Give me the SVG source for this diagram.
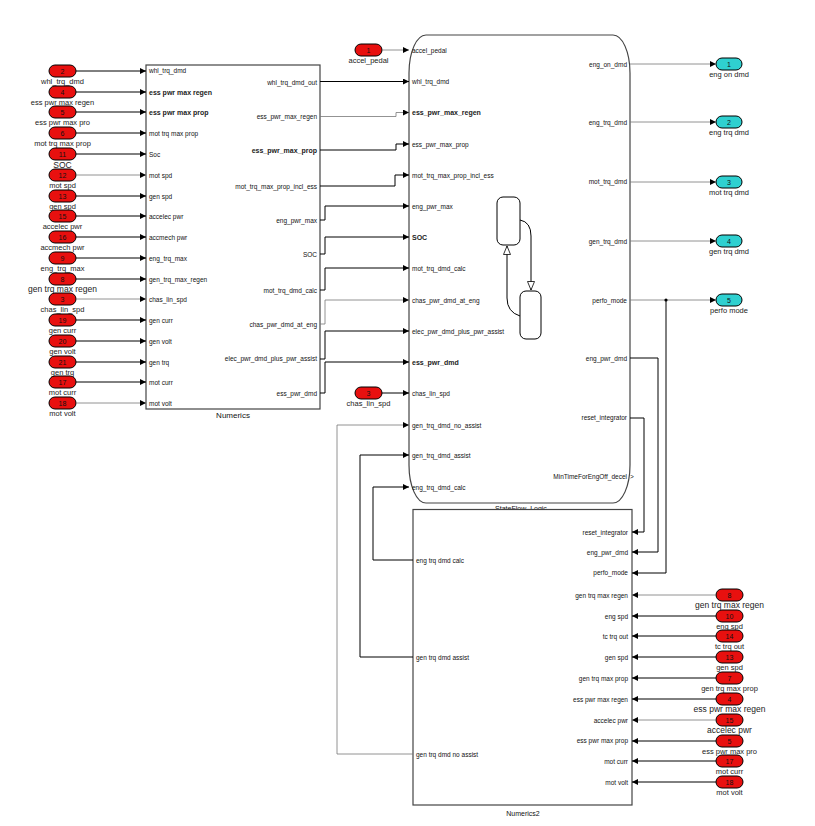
<svg xmlns="http://www.w3.org/2000/svg" width="815" height="826" viewBox="0 0 815 826">
<defs>
<marker id="ar" markerUnits="userSpaceOnUse" markerWidth="7" markerHeight="7" refX="6" refY="3" orient="auto"><path d="M0,0 L6,3 L0,6 z" fill="#000"/></marker>
<marker id="oa" markerUnits="userSpaceOnUse" markerWidth="10" markerHeight="12" refX="9" refY="4" orient="auto"><path d="M0.5,0.5 L9,4 L0.5,7.5 z" fill="#fff" stroke="#000" stroke-width="0.8"/></marker>
<style>
text{font-family:"Liberation Sans",Arial,sans-serif;fill:#111}
.n{font-size:7px;text-anchor:middle}
.lb{font-size:7.5px;text-anchor:middle;fill:#222}
.lb9{font-size:8.5px;text-anchor:middle;fill:#222}
.p{font-size:6.5px}
.pb{font-size:7px;font-weight:bold;fill:#222}
.pr{font-size:6.5px;text-anchor:end}
.prb{font-size:7px;text-anchor:end;font-weight:bold;fill:#222}
.bl{font-size:8px;text-anchor:middle}
.ip{fill:#e8100f;stroke:#000;stroke-width:1}
.op{fill:#2fd0d0;stroke:#000;stroke-width:1}
.blk{fill:#fff;stroke:#444;stroke-width:1.2}
#conn path{fill:none;stroke:#000;stroke-width:1;marker-end:url(#ar)}
#conn path.g{stroke:#777;stroke-width:0.8}
</style>
</defs>
<rect width="815" height="826" fill="#fff"/>

<!-- Blocks -->
<g id="Numerics">
<rect class="blk" x="146" y="65" width="174" height="344"/>
<text class="p" x="149" y="73">whl_trq_dmd</text>
<text class="pb" x="149" y="94.5">ess pwr max regen</text>
<text class="pb" x="149" y="114.5">ess pwr max prop</text>
<text class="p" x="149" y="135.5">mot trq max prop</text>
<text class="p" x="149" y="156.5">Soc</text>
<text class="p" x="149" y="177.5">mot spd</text>
<text class="p" x="149" y="198.5">gen spd</text>
<text class="p" x="149" y="218.5">accelec pwr</text>
<text class="p" x="149" y="239.5">accmech pwr</text>
<text class="p" x="149" y="260.5">eng_trq_max</text>
<text class="p" x="149" y="281.5">gen_trq_max_regen</text>
<text class="p" x="149" y="301.5">chas_lin_spd</text>
<text class="p" x="149" y="322.5">gen curr</text>
<text class="p" x="149" y="343.5">gen volt</text>
<text class="p" x="149" y="364.5">gen trq</text>
<text class="p" x="149" y="384.5">mot curr</text>
<text class="p" x="149" y="405.5">mot volt</text>
<text class="pr" x="317" y="84.5">whl_trq_dmd_out</text>
<text class="pr" x="317" y="119">ess_pwr_max_regen</text>
<text class="prb" x="317" y="152.5">ess_pwr_max_prop</text>
<text class="pr" x="317" y="188.5">mot_trq_max_prop_incl_ess</text>
<text class="pr" x="317" y="222.5">eng_pwr_max</text>
<text class="pr" x="317" y="256.5">SOC</text>
<text class="pr" x="317" y="292.5">mot_trq_dmd_calc</text>
<text class="pr" x="317" y="326.5">chas_pwr_dmd_at_eng</text>
<text class="pr" x="317" y="361">elec_pwr_dmd_plus_pwr_assist</text>
<text class="pr" x="317" y="395.5">ess_pwr_dmd</text>
<text class="bl" x="233" y="418">Numerics</text>
</g>

<g id="StateFlow_Logic">
<path class="blk" d="M426,35 L613,35 A17,38 0 0 1 630,73 L630,465 A17,38 0 0 1 613,503 L426,503 A17,38 0 0 1 409,465 L409,73 A17,38 0 0 1 426,35 Z"/>
<rect x="497" y="197" width="23" height="48" rx="6" fill="#fff" stroke="#000" stroke-width="1"/>
<rect x="520" y="291" width="21" height="48" rx="6" fill="#fff" stroke="#000" stroke-width="1"/>
<path d="M520,220 Q531,222 531,236 L531,290" fill="none" stroke="#000" stroke-width="1" marker-end="url(#oa)"/>
<path d="M520,316 Q507,312 507,298 L507,246" fill="none" stroke="#000" stroke-width="1" marker-end="url(#oa)"/>
<text class="p" x="412" y="52.5">accel_pedal</text>
<text class="p" x="412" y="83.5">whl_trq_dmd</text>
<text class="pb" x="412" y="115">ess_pwr_max_regen</text>
<text class="p" x="412" y="146.5">ess_pwr_max_prop</text>
<text class="p" x="412" y="177.5">mot_trq_max_prop_incl_ess</text>
<text class="p" x="412" y="208.5">eng_pwr_max</text>
<text class="pb" x="412" y="239.5">SOC</text>
<text class="p" x="412" y="270.5">mot_trq_dmd_calc</text>
<text class="p" x="412" y="302.5">chas_pwr_dmd_at_eng</text>
<text class="p" x="412" y="333.5">elec_pwr_dmd_plus_pwr_assist</text>
<text class="pb" x="412" y="364.5">ess_pwr_dmd</text>
<text class="p" x="412" y="395.5">chas_lin_spd</text>
<text class="p" x="412" y="427.5">gen_trq_dmd_no_assist</text>
<text class="p" x="412" y="457.5">gen_trq_dmd_assist</text>
<text class="p" x="412" y="489.5">eng_trq_dmd_calc</text>
<text class="pr" x="627" y="66.5">eng_on_dmd</text>
<text class="pr" x="627" y="125">eng_trq_dmd</text>
<text class="pr" x="627" y="184">mot_trq_dmd</text>
<text class="pr" x="627" y="243.5">gen_trq_dmd</text>
<text class="pr" x="627" y="302.5">perfo_mode</text>
<text class="pr" x="627" y="360.5">eng_pwr_dmd</text>
<text class="pr" x="627" y="420">reset_integrator</text>
<text class="pr" x="627" y="479">MinTimeForEngOff_decel</text>
<text class="p" x="630" y="479">&gt;</text>
<text class="n" x="521" y="510.5">StateFlow_Logic</text>
</g>

<g id="Numerics2">
<rect class="blk" x="413" y="509.5" width="219" height="295.5"/>
<text class="pr" x="628" y="534.5">reset_integrator</text>
<text class="pr" x="628" y="554.5">eng_pwr_dmd</text>
<text class="pr" x="628" y="575">perfo_mode</text>
<text class="pr" x="628" y="597.5">gen trq max regen</text>
<text class="pr" x="628" y="618.5">eng spd</text>
<text class="pr" x="628" y="638.5">tc trq out</text>
<text class="pr" x="628" y="659.5">gen spd</text>
<text class="pr" x="628" y="680.5">gen trq max prop</text>
<text class="pr" x="628" y="701.5">ess pwr max regen</text>
<text class="pr" x="628" y="722.5">accelec pwr</text>
<text class="pr" x="628" y="742.5">ess pwr max prop</text>
<text class="pr" x="628" y="763.5">mot curr</text>
<text class="pr" x="628" y="784.5">mot volt</text>
<text class="p" x="416" y="562.5">eng trq dmd calc</text>
<text class="p" x="416" y="659.5">gen trq dmd assist</text>
<text class="p" x="416" y="756.5">gen trq dmd no assist</text>
<text class="n" x="523" y="816">Numerics2</text>
</g>

<!-- Left inports -->
<g id="in_2"><rect class="ip" x="49" y="65" width="27" height="12" rx="6"/><text class="n" x="62.5" y="73.5">2</text><text class="lb" x="62.5" y="84">whl_trq_dmd</text></g>
<g id="in_4"><rect class="ip" x="49" y="86" width="27" height="12" rx="6"/><text class="n" x="62.5" y="94.5">4</text><text class="lb" x="62.5" y="105">ess pwr max regen</text></g>
<g id="in_5"><rect class="ip" x="49" y="106" width="27" height="12" rx="6"/><text class="n" x="62.5" y="114.5">5</text><text class="lb" x="62.5" y="125">ess pwr max pro</text></g>
<g id="in_6"><rect class="ip" x="49" y="127" width="27" height="12" rx="6"/><text class="n" x="62.5" y="135.5">6</text><text class="lb" x="62.5" y="146">mot trq max prop</text></g>
<g id="in_11"><rect class="ip" x="49" y="148" width="27" height="12" rx="6"/><text class="n" x="62.5" y="156.5">11</text><text class="lb9" x="62.5" y="167.5">SOC</text></g>
<g id="in_12"><rect class="ip" x="49" y="169" width="27" height="12" rx="6"/><text class="n" x="62.5" y="177.5">12</text><text class="lb" x="62.5" y="188">mot spd</text></g>
<g id="in_13"><rect class="ip" x="49" y="190" width="27" height="12" rx="6"/><text class="n" x="62.5" y="198.5">13</text><text class="lb" x="62.5" y="209">gen spd</text></g>
<g id="in_15"><rect class="ip" x="49" y="210" width="27" height="12" rx="6"/><text class="n" x="62.5" y="218.5">15</text><text class="lb" x="62.5" y="229">accelec pwr</text></g>
<g id="in_16"><rect class="ip" x="49" y="231" width="27" height="12" rx="6"/><text class="n" x="62.5" y="239.5">16</text><text class="lb" x="62.5" y="250">accmech pwr</text></g>
<g id="in_9"><rect class="ip" x="49" y="252" width="27" height="12" rx="6"/><text class="n" x="62.5" y="260.5">9</text><text class="lb" x="62.5" y="271">eng_trq_max</text></g>
<g id="in_8"><rect class="ip" x="49" y="273" width="27" height="12" rx="6"/><text class="n" x="62.5" y="281.5">8</text><text class="lb9" x="62.5" y="292">gen trq max regen</text></g>
<g id="in_3"><rect class="ip" x="49" y="293" width="27" height="12" rx="6"/><text class="n" x="62.5" y="301.5">3</text><text class="lb" x="62.5" y="312">chas_lin_spd</text></g>
<g id="in_19"><rect class="ip" x="49" y="314" width="27" height="12" rx="6"/><text class="n" x="62.5" y="322.5">19</text><text class="lb" x="62.5" y="333">gen curr</text></g>
<g id="in_20"><rect class="ip" x="49" y="335" width="27" height="12" rx="6"/><text class="n" x="62.5" y="343.5">20</text><text class="lb" x="62.5" y="354">gen volt</text></g>
<g id="in_21"><rect class="ip" x="49" y="356" width="27" height="12" rx="6"/><text class="n" x="62.5" y="364.5">21</text><text class="lb" x="62.5" y="375">gen trq</text></g>
<g id="in_17"><rect class="ip" x="49" y="376" width="27" height="12" rx="6"/><text class="n" x="62.5" y="384.5">17</text><text class="lb" x="62.5" y="395">mot curr</text></g>
<g id="in_18"><rect class="ip" x="49" y="397" width="27" height="12" rx="6"/><text class="n" x="62.5" y="405.5">18</text><text class="lb" x="62.5" y="416">mot volt</text></g>

<!-- Middle inports -->
<g id="in_1_accel"><rect class="ip" x="355" y="44" width="27" height="12" rx="6"/><text class="n" x="368.5" y="52.5">1</text><text class="lb" x="368.5" y="63">accel_pedal</text></g>
<g id="in_3_chas"><rect class="ip" x="355" y="387" width="27" height="12" rx="6"/><text class="n" x="368.5" y="395.5">3</text><text class="lb" x="368.5" y="406">chas_lin_spd</text></g>

<!-- Outports -->
<g id="out_1"><rect class="op" x="716" y="58" width="26" height="12" rx="6"/><text class="n" x="729" y="66.5">1</text><text class="lb" x="729" y="77">eng on dmd</text></g>
<g id="out_2"><rect class="op" x="716" y="116" width="26" height="12" rx="6"/><text class="n" x="729" y="124.5">2</text><text class="lb" x="729" y="135">eng trq dmd</text></g>
<g id="out_3"><rect class="op" x="716" y="176" width="26" height="12" rx="6"/><text class="n" x="729" y="184.5">3</text><text class="lb" x="729" y="195">mot trq dmd</text></g>
<g id="out_4"><rect class="op" x="716" y="235" width="26" height="12" rx="6"/><text class="n" x="729" y="243.5">4</text><text class="lb" x="729" y="254">gen trq dmd</text></g>
<g id="out_5"><rect class="op" x="716" y="294" width="26" height="12" rx="6"/><text class="n" x="729" y="302.5">5</text><text class="lb" x="729" y="313">perfo mode</text></g>

<!-- Right inports -->
<g id="in2_8"><rect class="ip" x="716" y="589" width="27" height="12" rx="6"/><text class="n" x="729.5" y="597.5">8</text><text class="lb9" x="729.5" y="608">gen trq max regen</text></g>
<g id="in2_10"><rect class="ip" x="716" y="610" width="27" height="12" rx="6"/><text class="n" x="729.5" y="618.5">10</text><text class="lb" x="729.5" y="629">eng spd</text></g>
<g id="in2_14"><rect class="ip" x="716" y="630" width="27" height="12" rx="6"/><text class="n" x="729.5" y="638.5">14</text><text class="lb" x="729.5" y="649">tc trq out</text></g>
<g id="in2_13"><rect class="ip" x="716" y="651" width="27" height="12" rx="6"/><text class="n" x="729.5" y="659.5">13</text><text class="lb" x="729.5" y="670">gen spd</text></g>
<g id="in2_7"><rect class="ip" x="716" y="672" width="27" height="12" rx="6"/><text class="n" x="729.5" y="680.5">7</text><text class="lb" x="729.5" y="691">gen trq max prop</text></g>
<g id="in2_4"><rect class="ip" x="716" y="693" width="27" height="12" rx="6"/><text class="n" x="729.5" y="701.5">4</text><text class="lb9" x="729.5" y="712">ess pwr max regen</text></g>
<g id="in2_15"><rect class="ip" x="716" y="714" width="27" height="12" rx="6"/><text class="n" x="729.5" y="722.5">15</text><text class="lb9" x="729.5" y="733">accelec pwr</text></g>
<g id="in2_5"><rect class="ip" x="716" y="735" width="27" height="12" rx="6"/><text class="n" x="729.5" y="743.5">5</text><text class="lb" x="729.5" y="754">ess pwr max pro</text></g>
<g id="in2_17"><rect class="ip" x="716" y="755" width="27" height="12" rx="6"/><text class="n" x="729.5" y="763.5">17</text><text class="lb" x="729.5" y="774">mot curr</text></g>
<g id="in2_18"><rect class="ip" x="716" y="776" width="27" height="12" rx="6"/><text class="n" x="729.5" y="784.5">18</text><text class="lb" x="729.5" y="795">mot volt</text></g>

<g id="conn">
<path d="M76,71 H146"/>
<path d="M76,92 H146"/>
<path d="M76,112 H146"/>
<path d="M76,133 H146"/>
<path d="M76,154 H146"/>
<path class="g" d="M76,175 H146"/>
<path d="M76,196 H146"/>
<path d="M76,216 H146"/>
<path d="M76,237 H146"/>
<path d="M76,258 H146"/>
<path d="M76,279 H146"/>
<path class="g" d="M76,299 H146"/>
<path d="M76,320 H146"/>
<path d="M76,341 H146"/>
<path d="M76,362 H146"/>
<path d="M76,382 H146"/>
<path class="g" d="M76,403 H146"/>

<path class="g" d="M382,50 H409"/>
<path d="M320,81.5 H409"/>
<path class="g" d="M320,116.5 H396 V112.5 H409"/>
<path d="M320,150 H396 V144 H409"/>
<path d="M320,186 H395 V175 H409"/>
<path d="M320,220 H325 V206 H409"/>
<path d="M320,254 H325 V237 H409"/>
<path d="M320,290 H325 V268 H409"/>
<path class="g" d="M320,324 H325 V300 H409"/>
<path d="M320,359 H325 V331 H409"/>
<path d="M320,393 H325 V362 H409"/>
<path d="M382,393 H409"/>
<path class="g" d="M413,754 H337 V425 H409"/>
<path d="M413,657 H360 V455 H409"/>
<path d="M413,560 H373 V487 H409"/>

<path class="g" d="M630,64 H716"/>
<path class="g" d="M630,122 H716"/>
<path class="g" d="M630,182 H716"/>
<path class="g" d="M630,241 H716"/>
<path class="g" d="M630,300 H716"/>
<path d="M630,418 H644 V532 H632"/>
<path d="M630,358 H658 V552 H632"/>
<path d="M666,300 V573 H632"/>

<path class="g" d="M716,595 H632"/>
<path d="M716,616 H632"/>
<path d="M716,636 H632"/>
<path d="M716,657 H632"/>
<path d="M716,678 H632"/>
<path d="M716,699 H632"/>
<path class="g" d="M716,720 H632"/>
<path d="M716,741 H632"/>
<path d="M716,761 H632"/>
<path d="M716,782 H632"/>
</g>
<circle cx="666" cy="300" r="1.6" fill="#000"/>
</svg>
